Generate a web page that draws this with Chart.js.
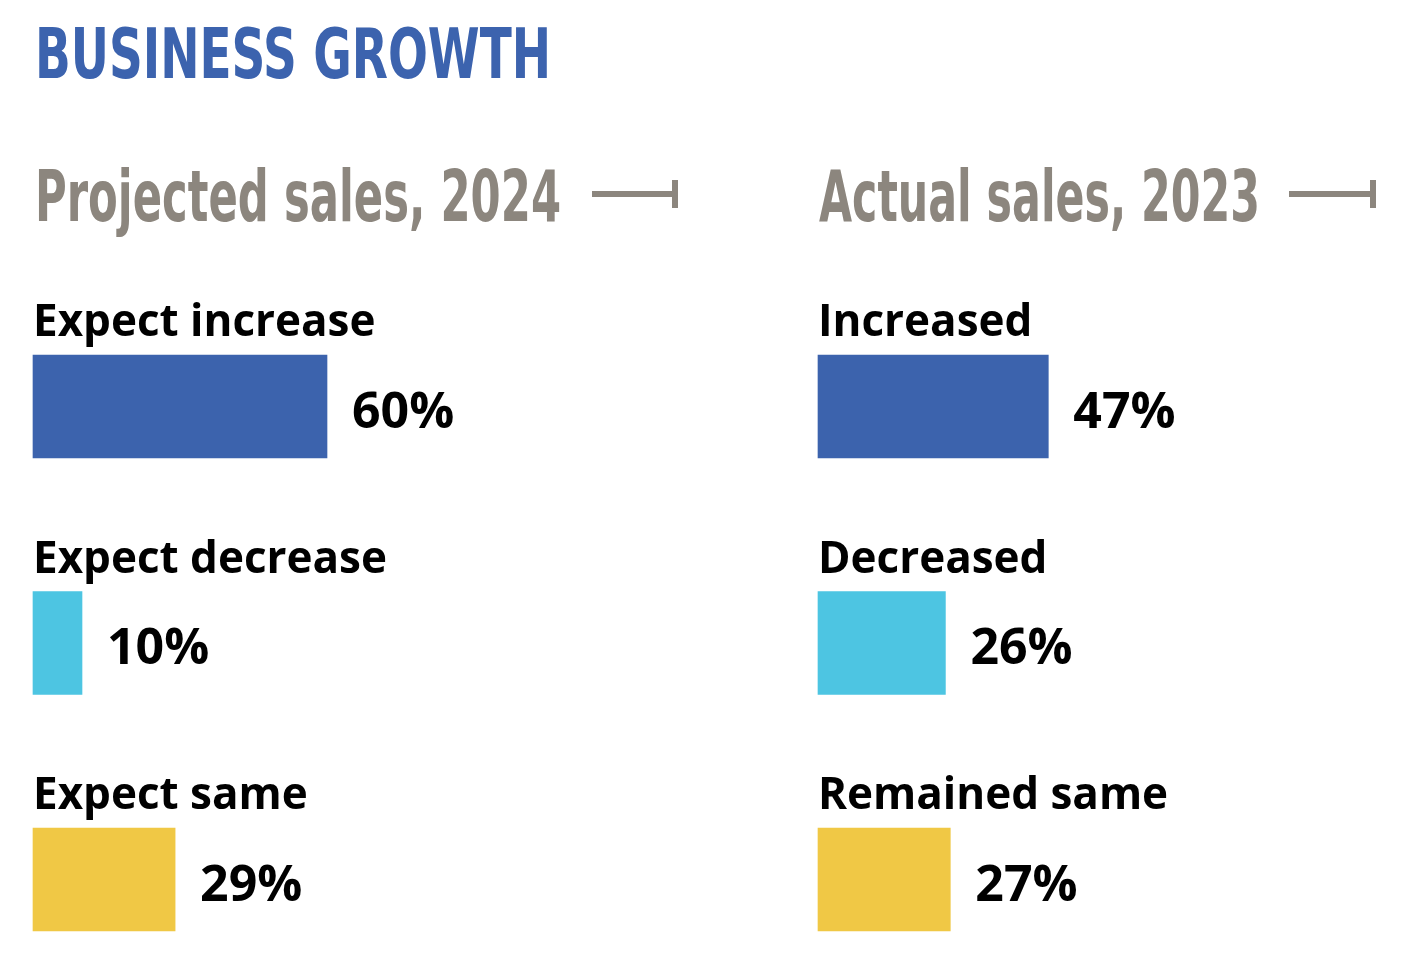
<!DOCTYPE html>
<html>
<head>
<meta charset="utf-8">
<title>Business growth</title>
<script src="https://cdn.jsdelivr.net/npm/chart.js@4/dist/chart.umd.min.js"></script>
<style>
    html, body { margin: 0; padding: 0; background: #fff; }
    body { width: 1418px; height: 964px; position: relative; overflow: hidden; }
    .head {
        position: absolute; white-space: nowrap; line-height: 1; font-weight: bold;
        font-family: "Liberation Sans Narrow", "DejaVu Sans Condensed", sans-serif;
        transform-origin: left top;
    }
    #title { left: 35px; top: 20px; font-size: 69px; color: #3c63ae; }
    .sub { top: 161px; font-size: 71px; color: #8c867e; }
    .rule { position: absolute; background: #8c867e; }
    .panel { position: absolute; top: 0; width: 709px; height: 964px; }
</style>
</head>
<body>
<div id="title" class="head" data-w="516">BUSINESS GROWTH</div>
<div class="head sub" style="left:35px" data-w="526">Projected sales, 2024</div>
<div class="head sub" style="left:819px" data-w="441">Actual sales, 2023</div>

<div class="rule" style="left:592px; top:191px; width:86px; height:6px"></div>
<div class="rule" style="left:672px; top:180px; width:6px; height:28px"></div>
<div class="rule" style="left:1289px; top:191px; width:87px; height:6px"></div>
<div class="rule" style="left:1370px; top:180px; width:6px; height:28px"></div>

<div class="panel" style="left:0"><canvas id="leftChart"></canvas></div>
<div class="panel" style="left:709px"><canvas id="rightChart"></canvas></div>

<script>
const projectedLabels = ["Expect increase", "Expect decrease", "Expect same"];
const projectedValues = [60, 10, 29];
const actualLabels = ["Increased", "Decreased", "Remained same"];
const actualValues = [47, 26, 27];
const barColors = ["#3c63ad", "#4dc5e2", "#f0c845"];

// squeeze the condensed headings to the width they have in the print version
function fitHeadings() {
    const ctx = document.createElement("canvas").getContext("2d");
    document.querySelectorAll(".head").forEach(el => {
        const cs = getComputedStyle(el);
        ctx.font = `${cs.fontWeight} ${cs.fontSize} ${cs.fontFamily}`;
        const w = ctx.measureText(el.textContent).width;
        el.style.transform = `scaleX(${(+el.dataset.w / w).toFixed(4)})`;
    });
}

// category name above each bar, percentage after its end
const barLabels = {
    id: "barLabels",
    afterDatasetsDraw(chart) {
        const ctx = chart.ctx;
        const values = chart.data.datasets[0].data;
        chart.getDatasetMeta(0).data.forEach((bar, i) => {
            const top = bar.y - bar.height / 2;
            ctx.save();
            ctx.fillStyle = "#000";
            ctx.textBaseline = "alphabetic";
            ctx.textAlign = "left";
            ctx.font = 'bold 44px "Open Sans"';
            ctx.fillText(chart.data.labels[i], bar.base, top - 19);
            ctx.font = 'bold 50px "Open Sans"';
            ctx.fillText(values[i] + "%", bar.x + 25, bar.y + 21);
            ctx.restore();
        });
    }
};

function makeChart(id, labels, values, padLeft) {
    return new Chart(document.getElementById(id), {
        type: "bar",
        data: {
            labels: labels,
            datasets: [{
                data: values,
                backgroundColor: barColors,
                borderWidth: 0,
                barThickness: 103,
                clip: false
            }]
        },
        options: {
            indexAxis: "y",
            responsive: true,
            maintainAspectRatio: false,
            animation: false,
            layout: { padding: { left: padLeft, right: 709 - padLeft - 490, top: 406.5, bottom: 84.5 } },
            scales: {
                x: { display: false, min: 0, max: 100 },
                y: { display: false, offset: false }
            },
            plugins: {
                legend: { display: false },
                tooltip: { enabled: false }
            }
        },
        plugins: [barLabels]
    });
}

document.fonts.ready.then(() => {
    fitHeadings();
    makeChart("leftChart", projectedLabels, projectedValues, 33);
    makeChart("rightChart", actualLabels, actualValues, 109);
});
</script>
</body>
</html>
